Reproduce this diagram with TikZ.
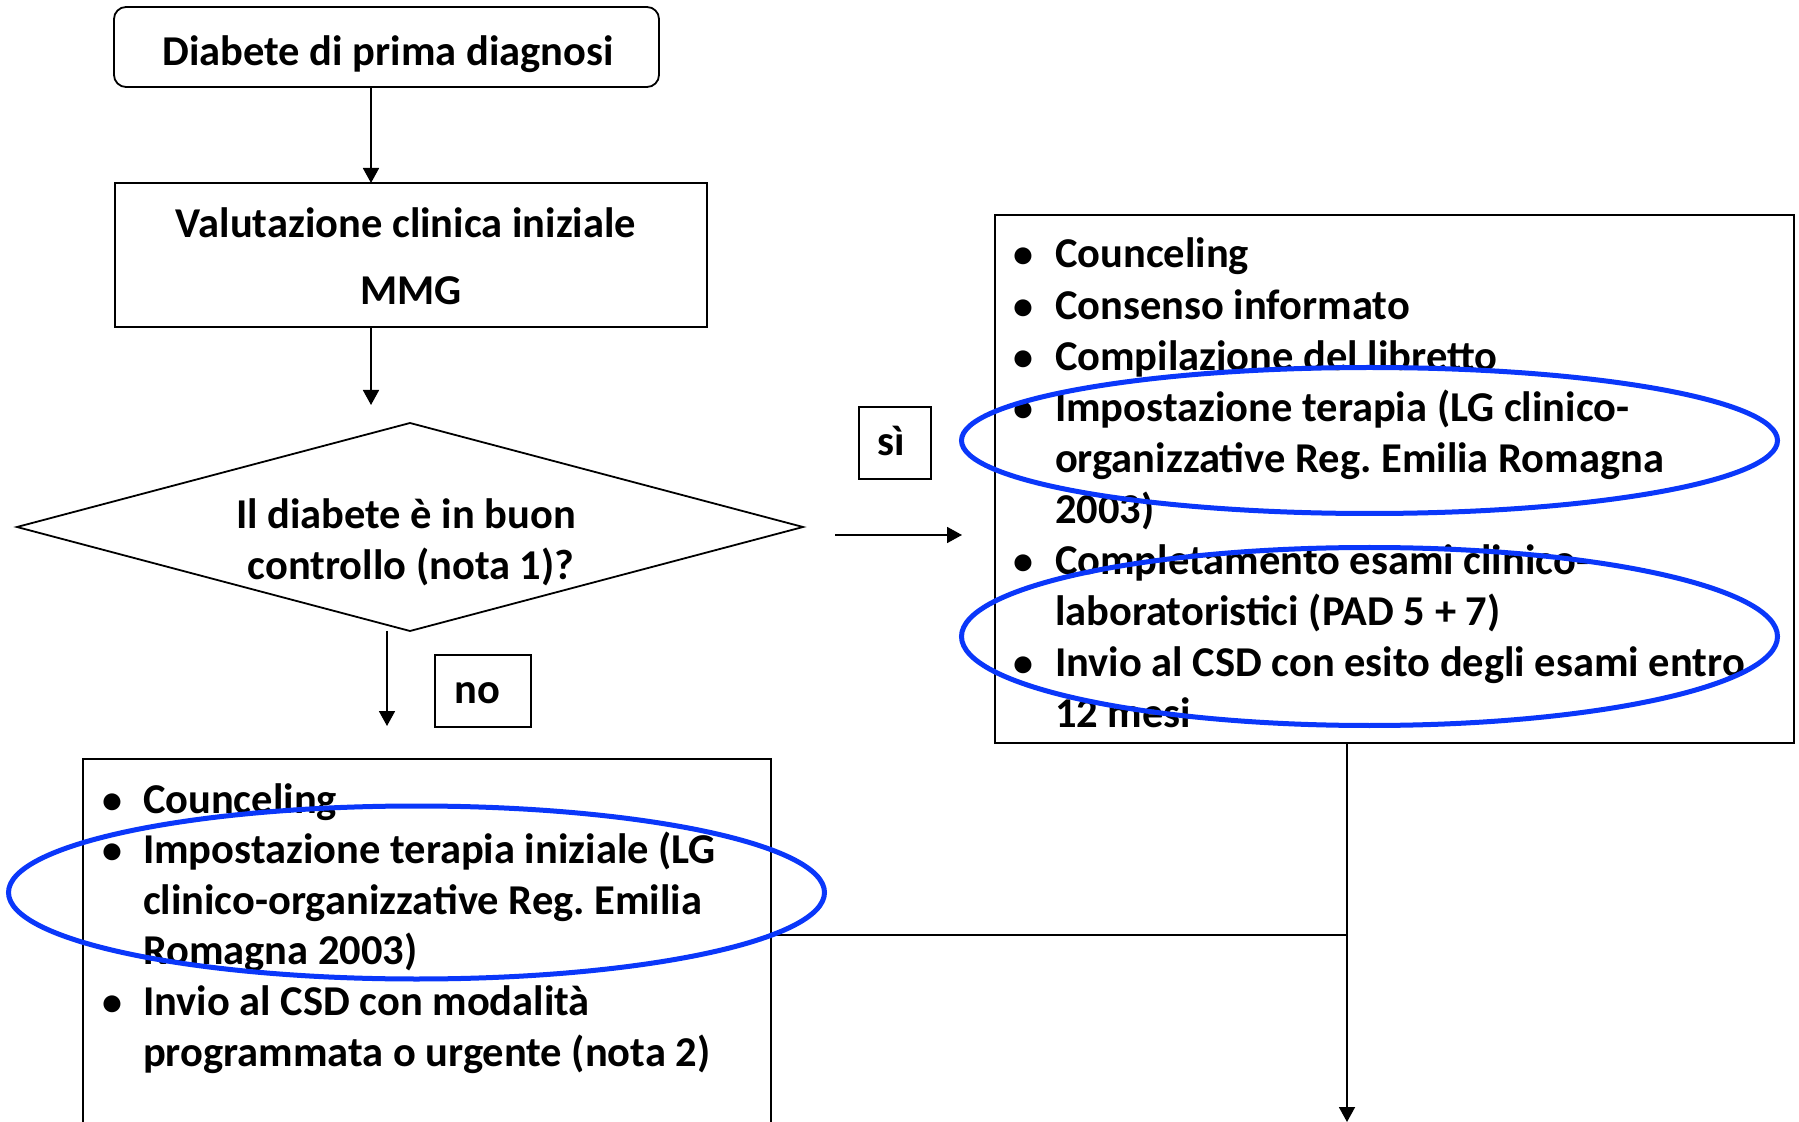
\documentclass[tikz,border=0pt]{standalone}
\usepackage{fontspec}
\setmainfont{Carlito}
\usetikzlibrary{shapes.geometric,arrows.meta}
\definecolor{ellblue}{RGB}{10,55,250}
\frenchspacing
\begin{document}
\begin{tikzpicture}[x=0.5pt,y=-0.5pt,
  every node/.style={inner sep=0pt, outer sep=0pt},
  txt/.style={font=\fontsize{21.25pt}{25.5pt}\selectfont\bfseries},
  bul/.style={font=\fontsize{20pt}{22pt}\selectfont\bfseries, anchor=base},
  box/.style={draw, line width=0.9pt, rectangle},
  arr/.style={line width=0.9pt, -{Triangle[length=7.5pt,width=8pt]}},
  ell/.style={draw=ellblue, line width=2.5pt, ellipse},
  ]
\path[use as bounding box, clip] (0,0) rectangle (1799,1122);
\fill[white] (0,0) rectangle (1799,1122);

% start box
\node[box, rounded corners=6pt, minimum width=272.5pt, minimum height=40pt] (start) at (386.5,47) {};
\node[txt, anchor=base] (startT) at (388,66) {Diabete di prima diagnosi};

% evaluation box
\node[box, minimum width=296pt, minimum height=72pt] (valut) at (411,255) {};
\node[txt, anchor=base] (valutT1) at (406,238) {Valutazione clinica iniziale};
\node[txt, anchor=base] (valutT2) at (411,305) {MMG};

% decision diamond
\node[diamond, draw, line width=0.9pt, minimum width=393pt, minimum height=104pt] (dec) at (410,527) {};
\node[txt, anchor=base] (decT1) at (406,529) {Il diabete è in buon};
\node[txt, anchor=base] (decT2) at (411,580) {controllo (nota 1)?};

% labels
\node[box, minimum width=48pt, minimum height=36pt] (nobox) at (483,691) {};
\node[txt, anchor=base] (noT) at (477,704) {no};
\node[box, minimum width=36pt, minimum height=36pt] (sibox) at (895,443) {};
\node[txt, anchor=base] (siT) at (891,456) {sì};

% right box
\node[box, minimum width=399.5pt, minimum height=264pt] (rbox) at (1394.5,479) {};
\foreach \b/\t [count=\i from 0] in {
  1/{Counceling},
  1/{Consenso informato},
  1/{Compilazione del libretto},
  1/{Impostazione terapia (LG clinico-},
  0/{organizzative Reg. Emilia Romagna},
  0/{2003)},
  1/{Completamento esami clinico-},
  0/{laboratoristici (PAD 5 + 7)},
  1/{Invio al CSD con esito degli esami entro},
  0/{12 mesi}} {
  \node[txt, anchor=base west] (r\i) at (1055,{268+51.1*\i}) {\t};
  \ifnum\b=1 \node[bul] (rb\i) at (1023,{268+51.1*\i}) {•};\fi
}

% left box
\node[box, minimum width=344pt, minimum height=220.5pt] (lbox) at (427,979.5) {};
\foreach \b/\t [count=\i from 0] in {
  1/{Counceling},
  1/{Impostazione terapia iniziale (LG},
  0/{clinico-organizzative Reg. Emilia},
  0/{Romagna 2003)},
  1/{Invio al CSD con modalità},
  0/{programmata o urgente (nota 2)}} {
  \node[txt, anchor=base west] (l\i) at (143,{813+50.6*\i}) {\t};
  \ifnum\b=1 \node[bul] (lb\i) at (112,{813+50.6*\i}) {•};\fi
}

% connectors
\coordinate (ax) at (371,0);
\coordinate (d1) at (371,405);
\coordinate (n1) at (387,726);
\coordinate (s0) at (835,535);
\coordinate (s1) at (962,535);
\coordinate (vend) at (1347,1122);
\coordinate (hjoin) at (1347,935);
\draw[arr] (start.south -| ax) -- (valut.north -| ax);
\draw[arr] (valut.south -| ax) -- (d1);
\draw[arr] (dec.south -| n1) -- (n1);
\draw[arr] (s0) -- (s1);
\draw[arr] (rbox.south -| vend) -- (vend);
\draw[line width=0.9pt] (lbox.east |- hjoin) -- (hjoin);

% highlight ellipses
\node[ell, minimum width=408pt, minimum height=73pt] (e1) at (1369.5,440.5) {};
\node[ell, minimum width=408pt, minimum height=89pt] (e2) at (1369.5,636.5) {};
\node[ell, minimum width=408pt, minimum height=86.5pt] (e3) at (416.5,892.5) {};
\end{tikzpicture}
\end{document}
